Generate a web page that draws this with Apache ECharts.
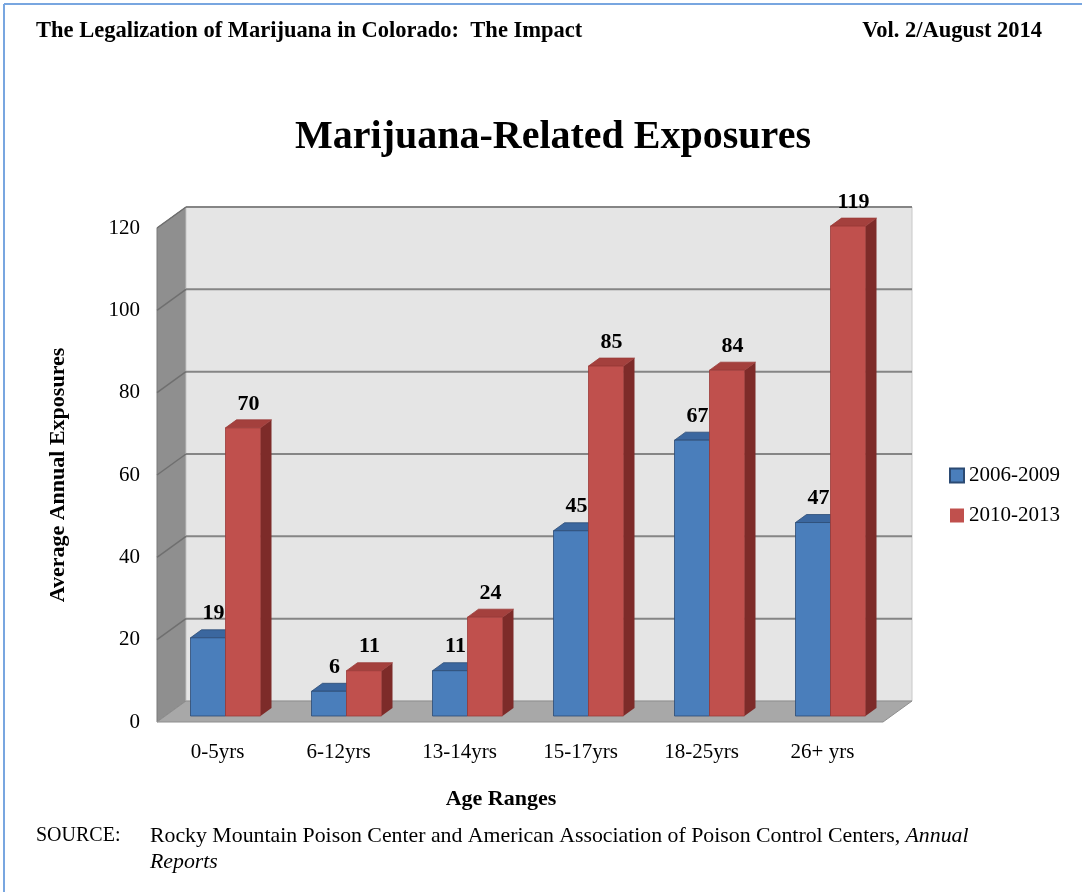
<!DOCTYPE html>
<html>
<head>
<meta charset="utf-8">
<title>Marijuana-Related Exposures</title>
<script src="https://cdn.jsdelivr.net/npm/echarts@6/dist/echarts.min.js"></script>
<style>
  html, body { margin: 0; padding: 0; background: #ffffff; }
  #chart { width: 1082px; height: 892px; }
</style>
</head>
<body>
<div id="chart"></div>
<script>
// Age ranges on the category axis
const categories = ['0-5yrs', '6-12yrs', '13-14yrs', '15-17yrs', '18-25yrs', '26+ yrs'];
// Legend names of the two periods
const seriesNames = ['2006-2009', '2010-2013'];
// Average annual exposures per age range
const exposures2006to2009 = [19, 6, 11, 45, 67, 47];
const exposures2010to2013 = [70, 11, 24, 85, 84, 119];
// Value axis ticks
const yTicks = [0, 20, 40, 60, 80, 100, 120];

const FONT = '"Liberation Serif", "DejaVu Serif", serif';

// Depth of the chart box (back wall offset from the front plane)
const WALL_DX = 29, WALL_DY = -21;
// Bars sit a little behind the front plane and have their own depth
const BAR_SHIFT_X = 8, BAR_SHIFT_Y = -6;
const BAR_DX = 11, BAR_DY = -8;
const BAR_W = 35;

const palette = [
  { front: '#4a7ebb', top: '#3b679f', side: '#2c5283', stroke: '#2b4a73' },
  { front: '#c0504d', top: '#a4403d', side: '#7d2b29', stroke: '#9a3b38' }
];

const chart = echarts.init(document.getElementById('chart'), null, { renderer: 'canvas' });

function renderBox(params, api) {
  const cs = params.coordSys;
  const x0 = cs.x, x1 = cs.x + cs.width;
  const yBottom = cs.y + cs.height, yTop = cs.y;
  const children = [];
  // left side wall
  children.push({
    type: 'polygon',
    shape: { points: [[x0, yTop], [x0 + WALL_DX, yTop + WALL_DY], [x0 + WALL_DX, yBottom + WALL_DY], [x0, yBottom]] },
    style: { fill: '#8f8f8f', stroke: '#7a7a7a', lineWidth: 1 }
  });
  // back wall
  children.push({
    type: 'rect',
    shape: { x: x0 + WALL_DX, y: yTop + WALL_DY, width: cs.width, height: cs.height },
    style: { fill: '#e5e5e5', stroke: '#c8c8c8', lineWidth: 1 }
  });
  // floor
  children.push({
    type: 'polygon',
    shape: { points: [[x0, yBottom], [x0 + WALL_DX, yBottom + WALL_DY], [x1 + WALL_DX, yBottom + WALL_DY], [x1, yBottom]] },
    style: { fill: '#a8a8a8', stroke: '#8e8e8e', lineWidth: 1 }
  });
  // grid lines on the back wall and the side wall
  yTicks.forEach(function (v) {
    if (v === 0) return;
    const y = api.coord([0, v])[1];
    children.push({
      type: 'line',
      shape: { x1: x0 + WALL_DX, y1: y + WALL_DY, x2: x1 + WALL_DX, y2: y + WALL_DY },
      style: { stroke: '#858585', lineWidth: 2 }
    });
    children.push({
      type: 'line',
      shape: { x1: x0, y1: y, x2: x0 + WALL_DX, y2: y + WALL_DY },
      style: { stroke: '#6f6f6f', lineWidth: 1.5 }
    });
  });
  return { type: 'group', children: children };
}

function makeBarRenderer(seriesIndex) {
  return function (params, api) {
    const cat = api.value(0);
    const val = api.value(1);
    const base = api.coord([cat, 0]);
    const topPt = api.coord([cat, val]);
    const cx = base[0] + BAR_SHIFT_X;
    const xa = seriesIndex === 0 ? cx - BAR_W : cx;
    const xb = xa + BAR_W;
    const yb = base[1] + BAR_SHIFT_Y;
    const yt = topPt[1] + BAR_SHIFT_Y;
    const c = palette[seriesIndex];
    return {
      type: 'group',
      children: [
        {
          type: 'polygon',
          shape: { points: [[xb, yt], [xb + BAR_DX, yt + BAR_DY], [xb + BAR_DX, yb + BAR_DY], [xb, yb]] },
          style: { fill: c.side }
        },
        {
          type: 'polygon',
          shape: { points: [[xa, yt], [xb, yt], [xb + BAR_DX, yt + BAR_DY], [xa + BAR_DX, yt + BAR_DY]] },
          style: { fill: c.top, stroke: c.stroke, lineWidth: 0.8 }
        },
        {
          type: 'rect',
          shape: { x: xa, y: yt, width: BAR_W, height: yb - yt },
          style: { fill: c.front, stroke: c.stroke, lineWidth: 0.8 }
        },
        {
          type: 'text',
          style: {
            text: String(val),
            x: (xa + xb) / 2 + BAR_DX / 2,
            y: yt - 24,
            fill: '#000000',
            font: 'bold 22px ' + FONT,
            align: 'center',
            verticalAlign: 'middle'
          }
        }
      ]
    };
  };
}

const option = {
  animation: false,
  textStyle: { fontFamily: FONT, color: '#000' },
  grid: { left: 157, right: 199, top: 228, bottom: 170, containLabel: false },
  legend: {
    orient: 'vertical',
    left: 944,
    top: 459,
    itemGap: 17,
    itemWidth: 14,
    itemHeight: 14,
    icon: 'rect',
    data: seriesNames,
    textStyle: { fontFamily: FONT, fontSize: 21, color: '#000', lineHeight: 23 }
  },
  xAxis: {
    type: 'category',
    data: categories,
    axisLine: { show: false },
    axisTick: { show: false },
    splitLine: { show: false },
    axisLabel: { margin: 20, fontSize: 21, fontFamily: FONT, color: '#000' }
  },
  yAxis: {
    type: 'value',
    min: 0,
    max: 120,
    interval: 20,
    axisLine: { show: false },
    axisTick: { show: false },
    splitLine: { show: false },
    axisLabel: { margin: 17, fontSize: 21, fontFamily: FONT, color: '#000' },
    name: 'Average Annual Exposures',
    nameLocation: 'middle',
    nameRotate: 90,
    nameGap: 88,
    nameTextStyle: { fontSize: 22, fontWeight: 'bold', fontFamily: FONT, color: '#000' }
  },
  graphic: [
    { type: 'line', shape: { x1: 4, y1: 4, x2: 1082, y2: 4 }, style: { stroke: '#78a6e0', lineWidth: 2 } },
    { type: 'line', shape: { x1: 4, y1: 4, x2: 4, y2: 892 }, style: { stroke: '#78a6e0', lineWidth: 2 } },
    {
      type: 'text', x: 36, y: 31,
      style: { text: 'The Legalization of Marijuana in Colorado:  The Impact', font: 'bold 22.5px ' + FONT, fill: '#000', verticalAlign: 'middle' }
    },
    {
      type: 'text', x: 1042, y: 31,
      style: { text: 'Vol. 2/August 2014', font: 'bold 22.5px ' + FONT, fill: '#000', align: 'right', verticalAlign: 'middle' }
    },
    {
      type: 'text', x: 553, y: 138,
      style: { text: 'Marijuana-Related Exposures', font: 'bold 40px ' + FONT, fill: '#000', align: 'center', verticalAlign: 'middle' }
    },
    {
      type: 'text', x: 501, y: 799,
      style: { text: 'Age Ranges', font: 'bold 22px ' + FONT, fill: '#000', align: 'center', verticalAlign: 'middle' }
    },
    {
      type: 'text', x: 36, y: 836,
      style: { text: 'SOURCE:', font: '20px ' + FONT, fill: '#000', verticalAlign: 'middle' }
    },
    {
      type: 'text', x: 150, y: 836,
      style: {
        text: '{n|Rocky Mountain Poison Center and American Association of Poison Control Centers, }{i|Annual}',
        verticalAlign: 'middle',
        rich: {
          n: { font: '21.8px ' + FONT, fill: '#000' },
          i: { font: 'italic 21.8px ' + FONT, fill: '#000' }
        }
      }
    },
    {
      type: 'text', x: 150, y: 862,
      style: { text: 'Reports', font: 'italic 21.8px ' + FONT, fill: '#000', verticalAlign: 'middle' }
    }
  ],
  series: [
    {
      type: 'custom',
      name: 'box',
      z: 1,
      silent: true,
      renderItem: renderBox,
      data: [[0, 0]],
      encode: { x: 0, y: 1 }
    },
    {
      type: 'custom',
      name: seriesNames[0],
      z: 2,
      itemStyle: { color: palette[0].front, borderColor: palette[0].stroke, borderWidth: 1 },
      renderItem: makeBarRenderer(0),
      data: exposures2006to2009.map(function (v, i) { return [i, v]; }),
      encode: { x: 0, y: 1 }
    },
    {
      type: 'custom',
      name: seriesNames[1],
      z: 3,
      itemStyle: { color: palette[1].front },
      renderItem: makeBarRenderer(1),
      data: exposures2010to2013.map(function (v, i) { return [i, v]; }),
      encode: { x: 0, y: 1 }
    }
  ]
};

chart.setOption(option);
</script>
</body>
</html>
